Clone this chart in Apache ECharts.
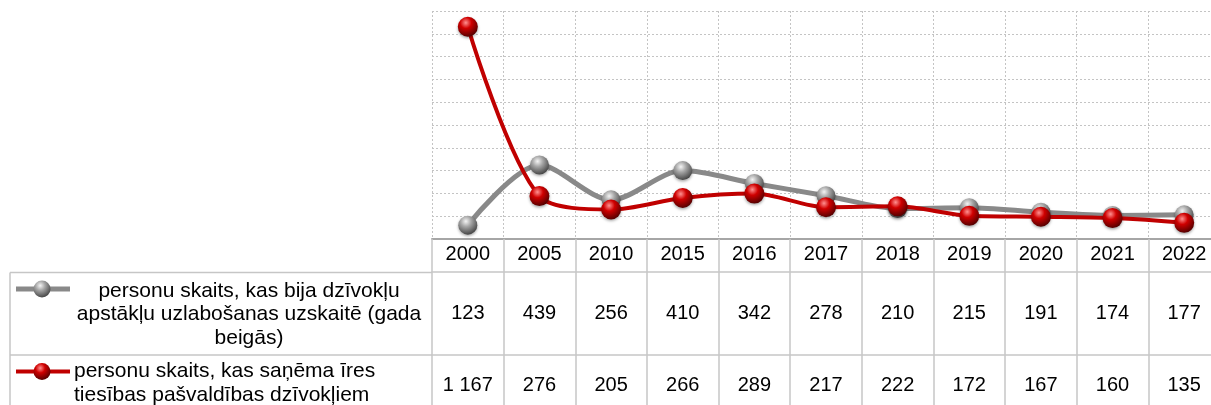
<!DOCTYPE html>
<html>
<head>
<meta charset="utf-8">
<title>Dzīvokļu palīdzība</title>
<script src="https://cdn.jsdelivr.net/npm/echarts@6/dist/echarts.min.js"></script>
<style>
  html, body { margin: 0; padding: 0; background: #fff; overflow: hidden; }
  /* the last column runs a little past the right edge, as in the source */
  #chart { width: 1220px; height: 405px; }
</style>
</head>
<body>
<div id="chart"></div>
<script>
// data
const years = ['2000', '2005', '2010', '2015', '2016', '2017', '2018', '2019', '2020', '2021', '2022']
const waitingList = [123, 439, 256, 410, 342, 278, 210, 215, 191, 174, 177]
const grantedRent = [1167, 276, 205, 266, 289, 217, 222, 172, 167, 160, 135]

const waitingName = 'personu skaits, kas bija dzīvokļu apstākļu uzlabošanas uzskaitē (gada beigās)'
const grantedName = 'personu skaits, kas saņēma īres tiesības pašvaldības dzīvokļiem'
const waitingLines = ['personu skaits, kas bija dzīvokļu', 'apstākļu uzlabošanas uzskaitē (gada', 'beigās)']
const grantedLines = ['personu skaits, kas saņēma īres', 'tiesības pašvaldības dzīvokļiem']

const yMin = 50
const yMax = 1250
const yStep = 120

const FONT = 'Liberation Sans, Arial, sans-serif'
const GRAY = '#898989'
const RED = '#c00000'
const TABLE_LINE = '#c6c6c6'

// 1167 -> "1 167"
const fmt = (n) => String(n).replace(/\B(?=(\d{3})+(?!\d))/g, ' ')

const sphere = (light, mid, dark) => ({
  type: 'radial', x: 0.4, y: 0.3, r: 0.7,
  colorStops: [
    { offset: 0, color: light },
    { offset: 0.4, color: mid },
    { offset: 1, color: dark }
  ]
})
const graySphere = sphere('#f4f4f4', '#a6a6a6', '#474747')
const redSphere = sphere('#ff9090', '#d00000', '#560000')

// extra category axes under the grid act as the data table rows
const tableAxis = (offset, values, tickLen, margin) => ({
  type: 'category',
  data: years,
  position: 'bottom',
  offset: offset,
  axisLine: { show: true, onZero: false, lineStyle: { color: TABLE_LINE, width: 1.5 } },
  axisTick: { show: true, interval: 0, length: tickLen, lineStyle: { color: TABLE_LINE, width: 1.5 } },
  axisLabel: {
    interval: 0,
    margin: margin,
    verticalAlign: 'middle',
    fontSize: 20,
    fontFamily: FONT,
    color: '#000',
    formatter: (v, i) => fmt(values[i])
  },
  splitLine: { show: false }
})

const chart = echarts.init(document.getElementById('chart'))

const option = {
  animation: false,
  backgroundColor: '#fff',
  grid: { left: 432, right: 0, top: 11, height: 228 },
  xAxis: [
    {
      type: 'category',
      data: years,
      position: 'bottom',
      axisLine: { show: true, onZero: false, lineStyle: { color: '#a6a6a6', width: 2 } },
      axisTick: { show: true, interval: 0, length: 33, lineStyle: { color: TABLE_LINE, width: 1.5 } },
      axisLabel: { interval: 0, margin: 15, verticalAlign: 'middle', fontSize: 20, fontFamily: FONT, color: '#000' },
      splitLine: { show: true, interval: 0, lineStyle: { color: '#c4c4c4', type: [2, 2], width: 1 } }
    },
    tableAxis(33, waitingList, 83, 41),
    tableAxis(116, grantedRent, 60, 30)
  ],
  yAxis: {
    type: 'value',
    min: yMin,
    max: yMax,
    interval: yStep,
    axisLine: { show: false },
    axisTick: { show: false },
    axisLabel: { show: false },
    splitLine: { show: true, lineStyle: { color: '#c4c4c4', type: [2, 2], width: 1 } }
  },
  series: [
    {
      name: waitingName,
      type: 'line',
      data: waitingList,
      smooth: 0.3,
      symbol: 'circle',
      symbolSize: 19,
      lineStyle: { color: GRAY, width: 5 },
      itemStyle: { color: graySphere, shadowBlur: 3, shadowColor: 'rgba(0,0,0,0.35)', shadowOffsetY: 1.5 },
      z: 2
    },
    {
      name: grantedName,
      type: 'line',
      data: grantedRent,
      smooth: 0.3,
      symbol: 'circle',
      symbolSize: 20,
      lineStyle: { color: RED, width: 4 },
      itemStyle: { color: redSphere, shadowBlur: 3, shadowColor: 'rgba(0,0,0,0.35)', shadowOffsetY: 1.5 },
      z: 3
    }
  ],
  graphic: [
    // left column of the data table
    { type: 'line', shape: { x1: 10, y1: 272.5, x2: 432, y2: 272.5 }, style: { stroke: TABLE_LINE, lineWidth: 1.5 } },
    { type: 'line', shape: { x1: 10, y1: 355, x2: 432, y2: 355 }, style: { stroke: TABLE_LINE, lineWidth: 1.5 } },
    { type: 'line', shape: { x1: 10, y1: 272.5, x2: 10, y2: 410 }, style: { stroke: TABLE_LINE, lineWidth: 1.5 } },
    // legend keys
    { type: 'line', shape: { x1: 16, y1: 289, x2: 70, y2: 289 }, style: { stroke: GRAY, lineWidth: 5 } },
    { type: 'circle', shape: { cx: 42, cy: 289, r: 8.5 }, style: { fill: graySphere } },
    { type: 'line', shape: { x1: 16, y1: 371.5, x2: 70, y2: 371.5 }, style: { stroke: RED, lineWidth: 4 } },
    { type: 'circle', shape: { cx: 42, cy: 371.5, r: 8.5 }, style: { fill: redSphere } },
    // row titles
    {
      type: 'text',
      style: {
        x: 249, y: 314.5,
        text: waitingLines.join('\n'),
        align: 'center', verticalAlign: 'middle',
        font: '21px ' + FONT, lineHeight: 23.3, fill: '#000'
      }
    },
    {
      type: 'text',
      style: {
        x: 74, y: 360,
        text: grantedLines.join('\n'),
        align: 'left', verticalAlign: 'top',
        font: '21px ' + FONT, lineHeight: 23.3, fill: '#000'
      }
    }
  ]
}

chart.setOption(option)
</script>
</body>
</html>
